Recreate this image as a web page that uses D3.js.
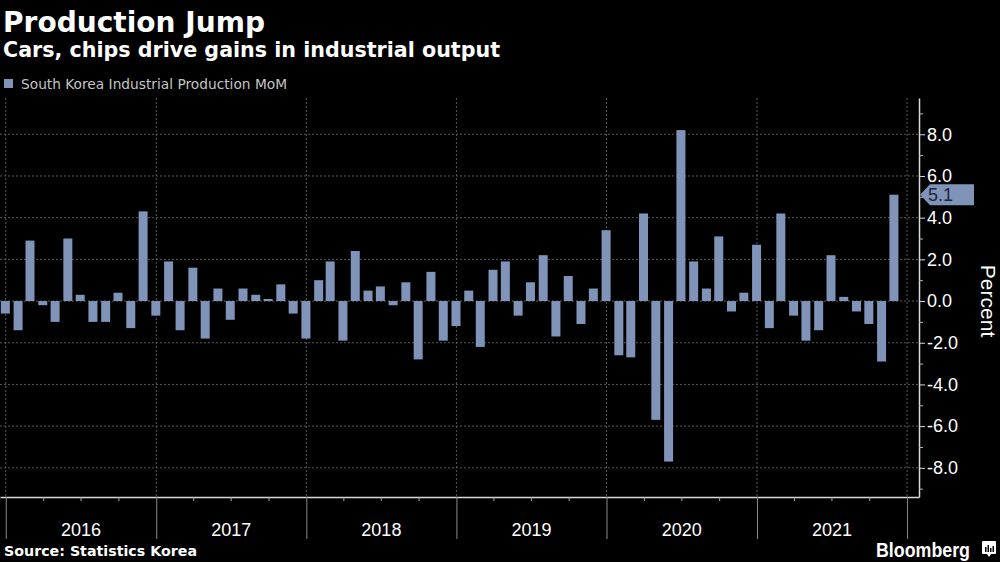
<!DOCTYPE html>
<html>
<head>
<meta charset="utf-8">
<script src="https://cdn.jsdelivr.net/npm/d3@7"></script>
<style>
  html, body { margin: 0; padding: 0; background: #000; }
  svg { display: block; }
</style>
</head>
<body>
<svg width="1000" height="562"></svg>
<script>
// monthly data, Dec 2015 .. Nov 2021 (plotted at month end like the terminal does)
var months = [
  "2015-12", "2016-01", "2016-02", "2016-03", "2016-04", "2016-05", "2016-06", "2016-07", "2016-08", "2016-09", "2016-10", "2016-11",
  "2016-12", "2017-01", "2017-02", "2017-03", "2017-04", "2017-05", "2017-06", "2017-07", "2017-08", "2017-09", "2017-10", "2017-11",
  "2017-12", "2018-01", "2018-02", "2018-03", "2018-04", "2018-05", "2018-06", "2018-07", "2018-08", "2018-09", "2018-10", "2018-11",
  "2018-12", "2019-01", "2019-02", "2019-03", "2019-04", "2019-05", "2019-06", "2019-07", "2019-08", "2019-09", "2019-10", "2019-11",
  "2019-12", "2020-01", "2020-02", "2020-03", "2020-04", "2020-05", "2020-06", "2020-07", "2020-08", "2020-09", "2020-10", "2020-11",
  "2020-12", "2021-01", "2021-02", "2021-03", "2021-04", "2021-05", "2021-06", "2021-07", "2021-08", "2021-09", "2021-10", "2021-11"
];
var values = [
  -0.6, -1.4, 2.9, -0.2, -1.0, 3.0, 0.3, -1.0, -1.0, 0.4, -1.3, 4.3,
  -0.7, 1.9, -1.4, 1.6, -1.8, 0.6, -0.9, 0.6, 0.3, 0.1, 0.8, -0.6,
  -1.8, 1.0, 1.9, -1.9, 2.4, 0.5, 0.7, -0.2, 0.9, -2.8, 1.4, -1.9,
  -1.2, 0.5, -2.2, 1.5, 1.9, -0.7, 0.9, 2.2, -1.7, 1.2, -1.1, 0.6,
  3.4, -2.6, -2.7, 4.2, -5.7, -7.7, 8.2, 1.9, 0.6, 3.1, -0.5, 0.4,
  2.7, -1.3, 4.2, -0.7, -1.9, -1.4, 2.2, 0.2, -0.5, -1.1, -2.9, 5.1
];
var years = ["2016", "2017", "2018", "2019", "2020", "2021"];
var yTicks = [-8, -6, -4, -2, 0, 2, 4, 6, 8];
var yMinorTicks = [-9, -7, -5, -3, -1, 1, 3, 5, 7, 9];

var barColor = "#7f94b8";

var svg = d3.select("svg");
svg.append("rect").attr("width", 1000).attr("height", 562).attr("fill", "#000");

var plot = { left: 0, right: 919, top: 98, bottom: 497 };

var parseMonth = d3.timeParse("%Y-%m");
var data = months.map(function (m, i) {
  var d = parseMonth(m);
  return { date: d3.timeDay.offset(d3.timeMonth.offset(d, 1), -1), value: values[i] };
});

var x = d3.scaleTime()
  .domain([new Date(2015, 11, 18), new Date(2022, 0, 30)])
  .range([plot.left, plot.right]);
var y = d3.scaleLinear()
  .domain([-9.4, 9.74])
  .range([plot.bottom, plot.top]);

var yearStarts = years.map(function (yr) { return new Date(+yr, 0, 1); })
  .concat([new Date(+years[years.length - 1] + 1, 0, 1)]);

// gridlines
var grid = svg.append("g").attr("class", "grid");
grid.selectAll(".hgrid")
  .data(yTicks)
  .enter().append("line")
  .attr("x1", plot.left).attr("x2", plot.right)
  .attr("y1", function (d) { return y(d); })
  .attr("y2", function (d) { return y(d); })
  .attr("stroke", "#5a5a5a")
  .attr("stroke-dasharray", "2,2");
grid.selectAll(".vgrid")
  .data(yearStarts)
  .enter().append("line")
  .attr("x1", function (d) { return x(d); })
  .attr("x2", function (d) { return x(d); })
  .attr("y1", plot.top).attr("y2", plot.bottom)
  .attr("stroke", "#5a5a5a")
  .attr("stroke-dasharray", "2,2");

// bars
var barW = 9;
svg.append("g").selectAll("rect")
  .data(data)
  .enter().append("rect")
  .attr("x", function (d) { return x(d.date) - barW / 2; })
  .attr("width", barW)
  .attr("y", function (d) { return y(Math.max(0, d.value)); })
  .attr("height", function (d) { return Math.abs(y(d.value) - y(0)); })
  .attr("fill", barColor);

// x axis: quarter ticks, long year separators
var quarters = d3.timeMonth.every(3).range(new Date(2016, 0, 1), new Date(2022, 0, 2))
  .filter(function (d) { return d.getMonth() !== 0; });
var xAxis = svg.append("g")
  .attr("transform", "translate(0," + plot.bottom + ")")
  .call(d3.axisBottom(x).tickValues(quarters).tickSize(4).tickSizeOuter(0).tickFormat(""));
xAxis.select(".domain").attr("stroke", "#d9d9d9").attr("stroke-width", 1.5);
xAxis.selectAll(".tick line").attr("stroke", "#aaa");

var xYears = svg.append("g")
  .attr("transform", "translate(0," + plot.bottom + ")")
  .call(d3.axisBottom(x).tickValues(yearStarts).tickSize(42).tickSizeOuter(0).tickFormat(""));
xYears.select(".domain").remove();
xYears.selectAll(".tick line").attr("stroke", "#8a8a8a");

svg.append("g").selectAll("text")
  .data(years)
  .enter().append("text")
  .attr("x", function (d) { return (x(new Date(+d, 0, 1)) + x(new Date(+d + 1, 0, 1))) / 2; })
  .attr("y", 536)
  .attr("text-anchor", "middle")
  .attr("fill", "#fff")
  .style("font", "18px 'Liberation Sans', Arial, sans-serif")
  .text(function (d) { return d; });

// y axis on the right
var yAxis = svg.append("g")
  .attr("transform", "translate(" + plot.right + ",0)")
  .call(d3.axisRight(y).tickValues(yTicks).tickSize(6).tickSizeOuter(0).tickPadding(2)
    .tickFormat(d3.format(".1f")));
yAxis.select(".domain").attr("stroke", "#d9d9d9").attr("stroke-width", 1.5);
yAxis.selectAll(".tick line").attr("stroke", "#d9d9d9");
yAxis.selectAll(".tick text")
  .attr("fill", "#fff")
  .style("font", "18px 'Liberation Sans', Arial, sans-serif")
  .text(function (d) { return d3.format(".1f")(d).replace("\u2212", "-"); });

var yMinor = svg.append("g")
  .attr("transform", "translate(" + plot.right + ",0)")
  .call(d3.axisRight(y).tickValues(yMinorTicks).tickSize(4).tickSizeOuter(0).tickFormat(""));
yMinor.select(".domain").remove();
yMinor.selectAll(".tick line").attr("stroke", "#bbb");

svg.append("text")
  .attr("transform", "translate(981," + y(0) + ") rotate(90)")
  .attr("text-anchor", "middle")
  .attr("fill", "#fff")
  .style("font", "21px 'Liberation Sans', Arial, sans-serif")
  .text("Percent");

// last value flag
var last = data[data.length - 1];
var fy = y(last.value);
svg.append("path")
  .attr("d", "M" + (plot.right + 1) + "," + fy +
    "L" + (plot.right + 11) + "," + (fy - 10.5) +
    "L974," + (fy - 10.5) +
    "L974," + (fy + 10.5) +
    "L" + (plot.right + 11) + "," + (fy + 10.5) + "Z")
  .attr("fill", barColor);
svg.append("text")
  .attr("x", 928)
  .attr("y", fy)
  .attr("dy", "0.36em")
  .attr("fill", "#1b2740")
  .style("font", "18px 'Liberation Sans', Arial, sans-serif")
  .text(d3.format(".1f")(last.value));

// titles
svg.append("text")
  .attr("x", 3).attr("y", 32)
  .attr("fill", "#fff")
  .attr("textLength", 262).attr("lengthAdjust", "spacingAndGlyphs")
  .style("font", "bold 29px 'DejaVu Sans', Verdana, sans-serif")
  .text("Production Jump");
svg.append("text")
  .attr("x", 3).attr("y", 57)
  .attr("fill", "#fff")
  .attr("textLength", 497).attr("lengthAdjust", "spacingAndGlyphs")
  .style("font", "bold 21px 'DejaVu Sans', Verdana, sans-serif")
  .text("Cars, chips drive gains in industrial output");

// legend
svg.append("rect")
  .attr("x", 4).attr("y", 79).attr("width", 9).attr("height", 9)
  .attr("fill", barColor);
svg.append("text")
  .attr("x", 21).attr("y", 89)
  .attr("fill", "#c4c4c4")
  .attr("textLength", 266).attr("lengthAdjust", "spacingAndGlyphs")
  .style("font", "14.5px 'DejaVu Sans', Verdana, sans-serif")
  .text("South Korea Industrial Production MoM");

// footer
svg.append("text")
  .attr("x", 4).attr("y", 556)
  .attr("fill", "#fff")
  .attr("textLength", 193).attr("lengthAdjust", "spacingAndGlyphs")
  .style("font", "bold 14px 'DejaVu Sans', Verdana, sans-serif")
  .text("Source: Statistics Korea");
svg.append("text")
  .attr("x", 876).attr("y", 557)
  .attr("fill", "#fff")
  .attr("textLength", 94).attr("lengthAdjust", "spacingAndGlyphs")
  .style("font", "bold 20px 'Liberation Sans', Arial, sans-serif")
  .text("Bloomberg");

// little terminal logo
var logo = svg.append("g").attr("transform", "translate(982,541)");
logo.append("path")
  .attr("d", "M1,0H13Q14,0 14,1V12Q14,13 13,13H9L7,16L5,13H1Q0,13 0,12V1Q0,0 1,0Z")
  .attr("fill", "#fff");
[[3, 6], [5.5, 4], [8, 7], [10.5, 5]].forEach(function (b) {
  logo.append("rect")
    .attr("x", b[0]).attr("y", b[1])
    .attr("width", 1.5).attr("height", 11 - b[1])
    .attr("fill", "#000");
});
</script>
</body>
</html>
